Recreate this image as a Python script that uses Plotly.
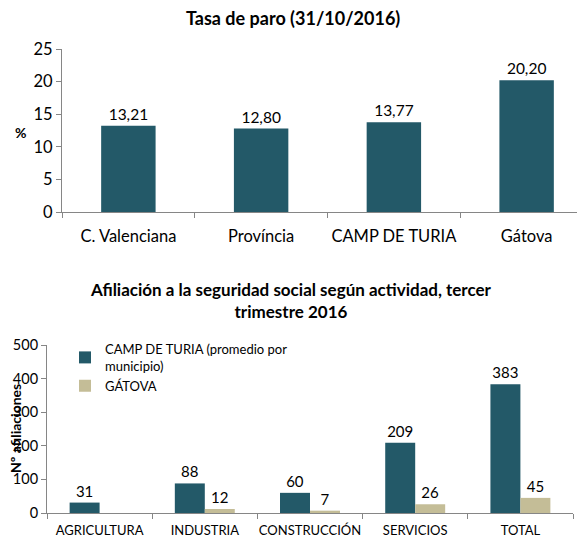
import plotly.graph_objects as go

# Top chart data
paro_cats = ["C. Valenciana", "Província", "CAMP DE TURIA", "Gátova"]
paro_vals = [13.21, 12.80, 13.77, 20.20]
paro_ticks = [0, 5, 10, 15, 20, 25]

# Bottom chart data
afil_cats = ["AGRICULTURA", "INDUSTRIA", "CONSTRUCCIÓN", "SERVICIOS", "TOTAL"]
afil_camp = [31, 88, 60, 209, 383]
afil_gatova = [None, 12, 7, 26, 45]
afil_ticks = [0, 100, 200, 300, 400, 500]

TEAL = "#235968"
TAN = "#C4BD97"
AX = "#868686"
FONT = "Lato, Open Sans, sans-serif"
W, H = 585, 542
OFF = 8  # page body margin

def px_x(x):
    return (x - OFF) / W

def px_y(y):
    return 1 - (y - OFF) / H

fig = go.Figure()

fig.add_trace(go.Bar(
    x=paro_cats, y=paro_vals, marker_color=TEAL, marker_line_width=0,
    text=[f"{v:.2f}".replace(".", ",") for v in paro_vals],
    textposition="outside", textfont=dict(size=15.5, color="#000"),
    cliponaxis=False, showlegend=False, xaxis="x", yaxis="y", width=0.41,
))

fig.add_trace(go.Bar(
    x=afil_cats, y=afil_camp, marker_color=TEAL, marker_line_width=0,
    name="CAMP DE TURIA (promedio por<br>municipio)",
    text=[str(v) for v in afil_camp], textposition="outside",
    textfont=dict(size=15, color="#000"), cliponaxis=False,
    xaxis="x2", yaxis="y2", offsetgroup="a",
))
fig.add_trace(go.Bar(
    x=afil_cats, y=afil_gatova, marker_color=TAN, marker_line_width=0,
    name="GÁTOVA",
    text=[("" if v is None else str(v)) for v in afil_gatova], textposition="outside",
    textfont=dict(size=15, color="#000"), cliponaxis=False,
    xaxis="x2", yaxis="y2", offsetgroup="b",
))

axis_common = dict(showline=True, linecolor=AX, linewidth=1, showgrid=False,
                   zeroline=False, ticks="outside", tickcolor=AX, ticklen=5,
                   automargin=False)

ann = dict(xref="paper", yref="paper", showarrow=False,
           xanchor="center", yanchor="middle")

fig.update_layout(
    width=W, height=H,
    margin=dict(l=0, r=0, t=0, b=0),
    paper_bgcolor="white", plot_bgcolor="white",
    font=dict(family=FONT, color="#000"),
    barmode="group",
    bargap=0.43, bargroupgap=0,
    xaxis=dict(domain=[px_x(62), 1.0], anchor="y", tickson="boundaries",
               tickangle=0, tickfont=dict(size=16.5), ticklabelstandoff=9,
               **axis_common),
    yaxis=dict(domain=[px_y(212), px_y(49)], anchor="x", range=[0, 25],
               tickvals=paro_ticks, tickfont=dict(size=16.5), **axis_common),
    xaxis2=dict(domain=[px_x(47), px_x(573)], anchor="y2", tickson="boundaries",
                tickangle=0, tickfont=dict(size=13), ticklabelstandoff=5,
                **axis_common),
    yaxis2=dict(domain=[px_y(513), px_y(345)], anchor="x2", range=[0, 500],
                tickvals=afil_ticks, tickfont=dict(size=14.5), **axis_common),
    legend=dict(x=px_x(65), y=px_y(334), xanchor="left", yanchor="top",
                font=dict(size=13), bgcolor="rgba(0,0,0,0)",
                itemwidth=30, tracegroupgap=0),
    annotations=[
        dict(text="<b>Tasa de paro (31/10/2016)</b>", x=px_x(293), y=px_y(18),
             font=dict(size=18), **ann),
        dict(text="<b>%</b>", x=px_x(20), y=px_y(133), font=dict(size=14), **ann),
        dict(text="<b>Afiliación a la seguridad social según actividad, tercer<br>trimestre 2016</b>",
             x=px_x(291), y=px_y(300), font=dict(size=17), **ann),
        dict(text="<b>Nº afiliaciones</b>", x=px_x(15), y=px_y(429), textangle=-90,
             font=dict(size=14), **ann),
    ],
)

fig.write_html("out.html")
